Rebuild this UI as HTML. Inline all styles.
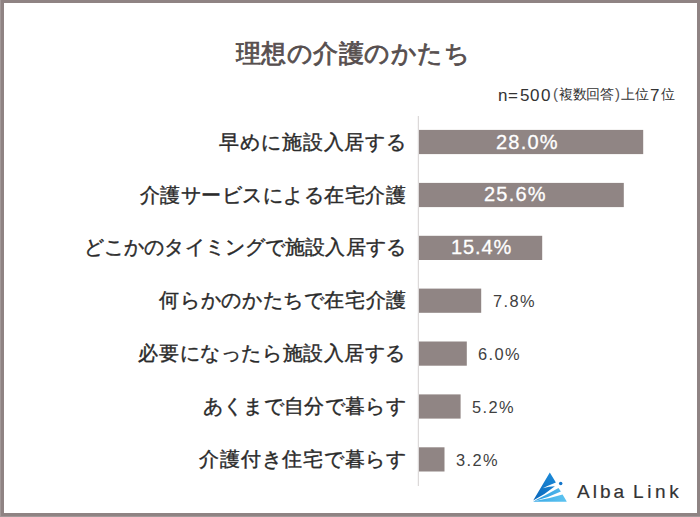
<!DOCTYPE html>
<html><head><meta charset="utf-8">
<style>
html,body{margin:0;padding:0;}
body{width:700px;height:517px;position:relative;overflow:hidden;background:#fff;font-family:"Liberation Sans",sans-serif;}
.frame{position:absolute;left:0;top:0;width:700px;height:517px;box-sizing:border-box;border:solid #8f8383;border-width:3px 3px 4px 4px;}
.title{position:absolute;left:3px;width:700px;top:33px;text-align:center;font-size:25px;letter-spacing:0.55px;line-height:40px;color:#574f4f;-webkit-text-stroke:0.8px #574f4f;white-space:nowrap;}
.n{position:absolute;top:84px;line-height:20px;color:#333;white-space:nowrap;}
.nl{font-size:17px;margin-top:1.5px;}
.nj{font-size:13.7px;margin-top:1px;}
.lab{position:absolute;right:294px;font-size:20px;line-height:30px;color:#2b2b2b;white-space:nowrap;-webkit-text-stroke:0.4px #2b2b2b;}
.vin{position:absolute;font-size:20px;line-height:24px;color:#fff;letter-spacing:1.2px;-webkit-text-stroke:0.3px #fff;white-space:nowrap;}
.vout{position:absolute;font-size:16.4px;line-height:24px;color:#404040;letter-spacing:1.4px;white-space:nowrap;}
.brand{position:absolute;left:577px;top:479.5px;font-size:19px;line-height:24px;color:#333;letter-spacing:3px;-webkit-text-stroke:0.2px #333;white-space:nowrap;}
svg{position:absolute;left:0;top:0;}
</style></head><body>
<div class="frame"></div>
<div style="position:absolute;left:0;top:0;width:1px;height:517px;background:#a29898"></div>
<div style="position:absolute;left:0;top:516px;width:700px;height:1px;background:#a29898"></div>
<div class="title">理想の介護のかたち</div>

<div class="n nl" style="left:498px">n</div>
<div class="n nl" style="left:508px">=</div>
<div class="n nl" style="left:520px">5</div>
<div class="n nl" style="left:530px">0</div>
<div class="n nl" style="left:541px">0</div>
<div class="n" style="left:553px;font-size:15px;margin-top:0px;color:#555">(</div>
<div class="n nj" style="left:559px;letter-spacing:-0.4px">複数回答</div>
<div class="n" style="left:615px;font-size:15px;margin-top:0px;color:#555">)</div>
<div class="n nj" style="left:621px">上位</div>
<div class="n nl" style="left:650px">7</div>
<div class="n nj" style="left:661px">位</div>

<svg width="700" height="517" viewBox="0 0 700 517">
<rect x="417.8" y="116" width="1" height="370" fill="#d4d0d0"/>
<g fill="#908584">
<rect x="419" y="129.9" width="224.2" height="24.2"/>
<rect x="419" y="182.9" width="204.8" height="24.2"/>
<rect x="419" y="235.8" width="123.2" height="24.2"/>
<rect x="419" y="288.6" width="62.2" height="24.2"/>
<rect x="419" y="341.5" width="47.8" height="24.2"/>
<rect x="419" y="394.4" width="41.6" height="24.2"/>
<rect x="419" y="447.3" width="25.5" height="24.2"/>
</g>
</svg>

<div class="lab" style="right:293px;top:127px;letter-spacing:0.875px">早めに施設入居する</div>
<div class="lab" style="top:180px;letter-spacing:0.5px">介護サービスによる在宅介護</div>
<div class="lab" style="top:232px;letter-spacing:0.13px">どこかのタイミングで施設入居する</div>
<div class="lab" style="right:293px;top:285px;letter-spacing:0.64px">何らかのかたちで在宅介護</div>
<div class="lab" style="top:338px;letter-spacing:0.58px">必要になったら施設入居する</div>
<div class="lab" style="top:391px;letter-spacing:0.33px">あくまで自分で暮らす</div>
<div class="lab" style="right:293px;top:444px;letter-spacing:0.78px">介護付き住宅で暮らす</div>

<div class="vin" style="top:130px;left:496px">28.0%</div>
<div class="vin" style="top:182px;left:484px">25.6%</div>
<div class="vin" style="top:235px;left:451px;letter-spacing:0.9px">15.4%</div>
<div class="vout" style="top:289px;left:493px">7.8%</div>
<div class="vout" style="top:342px;left:478px">6.0%</div>
<div class="vout" style="top:395px;left:472px">5.2%</div>
<div class="vout" style="top:448px;left:456px">3.2%</div>

<svg style="left:530px;top:470px" width="40" height="32" viewBox="0 0 40 32">
<defs>
<linearGradient id="ga" gradientUnits="userSpaceOnUse" x1="22" y1="3" x2="6" y2="30"><stop offset="0" stop-color="#1c8ad8"/><stop offset="1" stop-color="#0a68bc"/></linearGradient>
<linearGradient id="gb" gradientUnits="userSpaceOnUse" x1="6" y1="30" x2="30" y2="19"><stop offset="0" stop-color="#2a9ae0"/><stop offset="1" stop-color="#4fb6ea"/></linearGradient>
<linearGradient id="gc" gradientUnits="userSpaceOnUse" x1="4" y1="31" x2="36" y2="28"><stop offset="0" stop-color="#3caae6"/><stop offset="1" stop-color="#5cc3f0"/></linearGradient>
</defs>
<path d="M19.8 2.6 L25.9 12.5 Q21.5 14 12.8 18.3 Q19 16.4 24.9 16.2 Q14.1 25 3.2 30.5 Z" fill="url(#ga)"/>
<path d="M28.5 18 L30.9 21.4 Q18.2 27.46 5.5 30.8 L4.4 30.7 Q16.55 24.84 28.5 18 Z" fill="url(#gb)"/>
<path d="M32.6 24.6 L36.6 31.2 L36.6 31.7 L3.6 31.7 L3.6 31.3 Q18.2 29.06 32.6 24.6 Z" fill="url(#gc)"/>
<circle cx="30.7" cy="13.6" r="1.75" fill="#1375ca"/>
</svg>
<div class="brand" style="left:577px">Alba</div>
<div class="brand" style="left:633px;letter-spacing:3.6px">Link</div>
</body></html>
